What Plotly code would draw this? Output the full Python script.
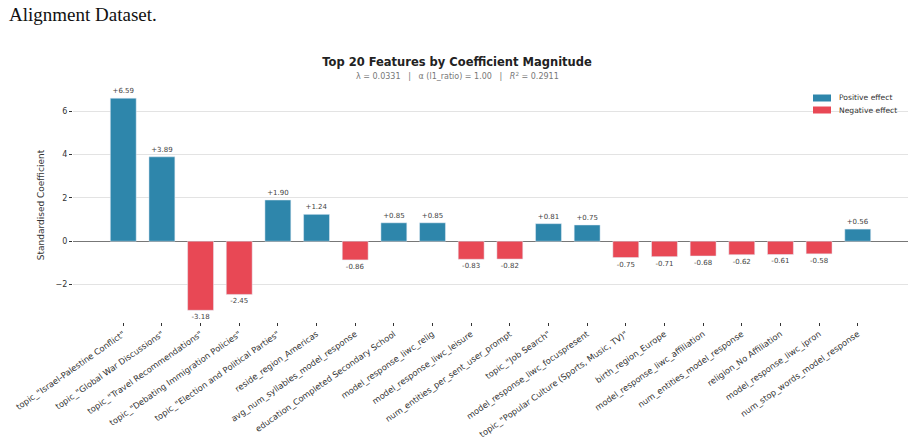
import plotly.graph_objects as go

features = [
    'topic_"Israel-Palestine Conflict"',
    'topic_"Global War Discussions"',
    'topic_"Travel Recommendations"',
    'topic_"Debating Immigration Policies"',
    'topic_"Election and Political Parties"',
    'reside_region_Americas',
    'avg_num_syllables_model_response',
    'education_Completed Secondary School',
    'model_response_liwc_relig',
    'model_response_liwc_leisure',
    'num_entities_per_sent_user_prompt',
    'topic_"Job Search"',
    'model_response_liwc_focuspresent',
    'topic_"Popular Culture (Sports, Music, TV)"',
    'birth_region_Europe',
    'model_response_liwc_affiliation',
    'num_entities_model_response',
    'religion_No Affiliation',
    'model_response_liwc_ipron',
    'num_stop_words_model_response',
]
coefs = [6.59, 3.89, -3.18, -2.45, 1.90, 1.24, -0.86, 0.85, 0.85, -0.83,
         -0.82, 0.81, 0.75, -0.75, -0.71, -0.68, -0.62, -0.61, -0.58, 0.56]
legend_names = ["Positive effect", "Negative effect"]

BLUE = "#2E86AB"
RED = "#E84855"

pos_idx = [i for i, v in enumerate(coefs) if v > 0]
neg_idx = [i for i, v in enumerate(coefs) if v < 0]

fig = go.Figure()
for idx, name, col in [(pos_idx, legend_names[0], BLUE), (neg_idx, legend_names[1], RED)]:
    fig.add_trace(go.Bar(x=[features[i] for i in idx], y=[coefs[i] for i in idx],
                         name=name, marker_color=col,
                         text=[f"{coefs[i]:+.2f}" for i in idx],
                         textposition="outside", cliponaxis=False,
                         textfont=dict(size=7, color="#444"), showlegend=False))

L, R, T, B = 73, 6, 88, 117
W, H = 914, 439
pw = W - L - R
ph = H - T - B

def px_x(x):
    return (x - L) / pw

def px_y(y):
    return 1 + (T - y) / ph

shapes = []
annotations = [
    dict(text="λ = 0.0331   |   α (l1_ratio) = 1.00   |   <i>R</i><sup>2</sup> = 0.2911",
         xref="paper", yref="paper", x=px_x(457), y=px_y(76),
         xanchor="center", yanchor="middle", showarrow=False,
         font=dict(size=8, color="#777")),
    dict(text="Alignment Dataset.",
         xref="paper", yref="paper", x=px_x(7), y=px_y(14),
         xanchor="left", yanchor="middle", showarrow=False,
         font=dict(size=19, color="#111", family="Liberation Serif")),
]
# legend (drawn manually for matplotlib-like compact patches)
for i, (name, col) in enumerate(zip(legend_names, [BLUE, RED])):
    yc = 98 + 12 * i
    shapes.append(dict(type="rect", xref="paper", yref="paper",
                       x0=px_x(813), x1=px_x(831), y0=px_y(yc + 3.5), y1=px_y(yc - 3.5),
                       fillcolor=col, line=dict(width=0)))
    annotations.append(dict(text=name, xref="paper", yref="paper",
                            x=px_x(837), y=px_y(yc), xanchor="left", yanchor="middle",
                            showarrow=False, font=dict(size=7.6, color="#333")))

fig.update_layout(
    width=W, height=H,
    margin=dict(l=L, r=R, t=T, b=B, autoexpand=False),
    paper_bgcolor="white", plot_bgcolor="white",
    barmode="overlay", bargap=0.33,
    font=dict(family="DejaVu Sans", color="#333"),
    showlegend=False,
    title=dict(text="<b>Top 20 Features by Coefficient Magnitude</b>",
               x=457 / W, xanchor="center", y=1 - 62 / H, yanchor="middle",
               font=dict(size=11.5, color="#222")),
    annotations=annotations,
    shapes=shapes,
)

fig.update_xaxes(range=[-1.3, 20.3], tickangle=-35, tickfont=dict(size=8.4, color="#333"),
                 categoryorder="array", categoryarray=features,
                 ticks="outside", ticklen=3, tickcolor="#333", showgrid=False,
                 showline=False, zeroline=False, automargin=False)
fig.update_yaxes(range=[-3.72, 7.06], tickvals=[-2, 0, 2, 4, 6],
                 tickfont=dict(size=8, color="#333"),
                 ticks="outside", ticklen=3, tickcolor="#333",
                 showgrid=True, gridcolor="#e3e3e3", gridwidth=1,
                 zeroline=True, zerolinecolor="#777", zerolinewidth=1,
                 showline=False, automargin=False,
                 title=dict(text="Standardised Coefficient", font=dict(size=9, color="#333"),
                            standoff=9))

fig.write_html("out.html")
